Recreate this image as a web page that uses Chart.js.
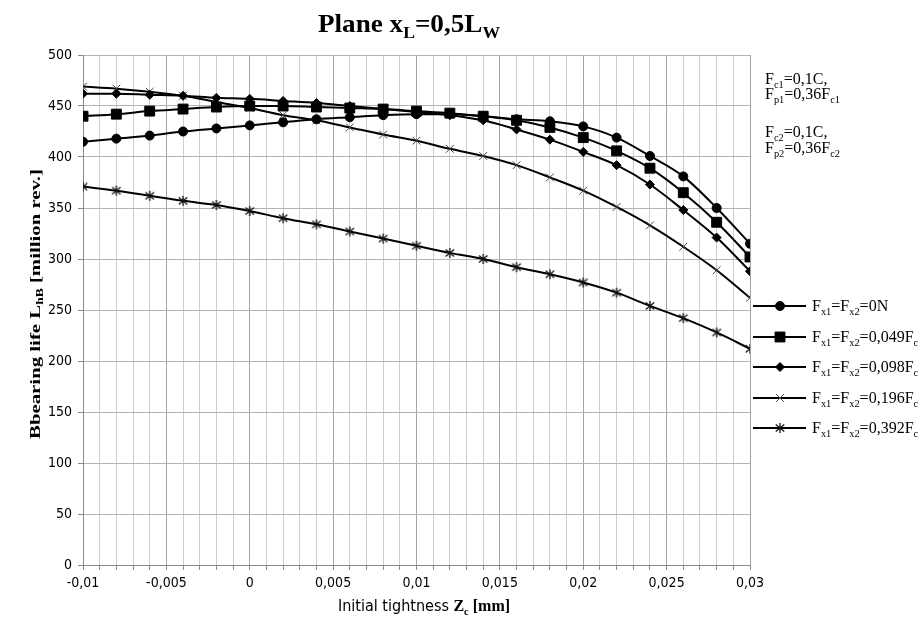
<!DOCTYPE html>
<html>
<head>
<meta charset="utf-8">
<script src="https://cdn.jsdelivr.net/npm/chart.js@4"></script>
<style>
  html, body { margin: 0; padding: 0; background: #fff; }
</style>
</head>
<body>
<canvas id="chart" width="924" height="624"></canvas>
<script>
// Initial tightness Zc [mm]
const tightness = [-0.01, -0.008, -0.006, -0.004, -0.002, 0, 0.002, 0.004, 0.006, 0.008,
    0.01, 0.012, 0.014, 0.016, 0.018, 0.02, 0.022, 0.024, 0.026, 0.028, 0.03];

// Bearing life LhB [million rev.] for each axial load
const life0N = [415, 418, 421, 425, 428, 431, 434, 437, 439, 441,
    442, 442, 440, 437, 435, 430, 419, 401, 381, 350, 315];
const life049 = [440, 442, 445, 447, 449, 450, 450, 449, 448, 447,
    445, 443, 440, 436, 429, 419, 406, 389, 365, 336, 302];
const life098 = [462, 462, 461, 460, 458, 457, 455, 453, 450, 447,
    444, 441, 436, 427, 417, 405, 392, 373, 348, 321, 288];
const life196 = [469, 467, 464, 460, 454, 448, 441, 436, 429, 422,
    416, 408, 401, 392, 380, 367, 351, 333, 312, 289, 262];
const life392 = [371, 367, 362, 357, 353, 347, 340, 334, 327, 320,
    313, 306, 300, 292, 285, 277, 267, 254, 242, 228, 212];

const seriesNames = ['F_{x1}=F_{x2}=0N', 'F_{x1}=F_{x2}=0,049F_{c}', 'F_{x1}=F_{x2}=0,098F_{c}',
    'F_{x1}=F_{x2}=0,196F_{c}', 'F_{x1}=F_{x2}=0,392F_{c}'];
const xTickLabels = ['-0,01', '-0,005', '0', '0,005', '0,01', '0,015', '0,02', '0,025', '0,03'];
const notes = ['F_{c1}=0,1C,', 'F_{p1}=0,36F_{c1}', '', 'F_{c2}=0,1C,', 'F_{p2}=0,36F_{c2}'];
const chartTitle = 'Plane x_{L}=0,5L_{W}';
const yTitle = 'Bbearing life L_{hB} [million rev.]';

const SERIF = "'Liberation Serif', 'Times New Roman', serif";
const NARROW = "'Liberation Sans Narrow', 'DejaVu Sans Condensed', 'Liberation Sans', sans-serif";

// excel-like star marker (x with a vertical stroke)
function starMarker(size) {
    const c = document.createElement('canvas');
    c.width = c.height = size;
    const g = c.getContext('2d');
    const m = size / 2, r = size / 2 - 1;
    g.strokeStyle = '#111';
    g.lineWidth = 1.3;
    g.beginPath();
    g.moveTo(m - r * 0.85, m - r * 0.7); g.lineTo(m + r * 0.85, m + r * 0.7);
    g.moveTo(m + r * 0.85, m - r * 0.7); g.lineTo(m - r * 0.85, m + r * 0.7);
    g.moveTo(m, m - r); g.lineTo(m, m + r);
    g.stroke();
    return c;
}
const star = starMarker(12);

const markers = [
    { pointStyle: 'circle', radius: 4.5, borderWidth: 1, color: '#000' },
    { pointStyle: 'rect', radius: 7, borderWidth: 1, color: '#000' },
    { pointStyle: 'rectRot', radius: 4.5, borderWidth: 1, color: '#000' },
    { pointStyle: 'crossRot', radius: 5.5, borderWidth: 1, color: '#444' },
    { pointStyle: star, radius: 6, borderWidth: 1, color: '#222' }
];

const allLife = [life0N, life049, life098, life196, life392];

// split "a_{b}c" into normal / subscript parts
function parseRich(str) {
    const parts = [];
    const re = /_\{([^}]*)\}/g;
    let last = 0, m;
    while ((m = re.exec(str))) {
        if (m.index > last) parts.push([str.slice(last, m.index), false]);
        parts.push([m[1], true]);
        last = re.lastIndex;
    }
    if (last < str.length) parts.push([str.slice(last), false]);
    return parts;
}

function richWidth(ctx, str, size, weight, family) {
    let w = 0;
    parseRich(str).forEach(([t, sub]) => {
        ctx.font = weight + ' ' + (sub ? size * 0.65 : size) + 'px ' + family;
        w += ctx.measureText(t).width;
    });
    return w;
}

function drawRich(ctx, str, x, y, size, weight, family, align) {
    const w = richWidth(ctx, str, size, weight, family);
    let cx = align === 'center' ? x - w / 2 : x;
    ctx.textAlign = 'left';
    ctx.textBaseline = 'alphabetic';
    parseRich(str).forEach(([t, sub]) => {
        ctx.font = weight + ' ' + (sub ? size * 0.65 : size) + 'px ' + family;
        ctx.fillText(t, cx, sub ? y + size * 0.22 : y);
        cx += ctx.measureText(t).width;
    });
    return w;
}

// draw rich text centred at (x, y) squeezed/stretched to a given length
function drawFitted(ctx, str, x, y, size, weight, family, length, angle) {
    const w = richWidth(ctx, str, size, weight, family);
    ctx.save();
    ctx.translate(x, y);
    ctx.rotate(angle);
    ctx.scale(length / w, 1);
    drawRich(ctx, str, 0, 0, size, weight, family, 'center');
    ctx.restore();
}

const textPlugin = {
    id: 'texts',
    afterDraw(chart) {
        const ctx = chart.ctx;
        ctx.save();
        ctx.fillStyle = '#000';

        // title
        drawFitted(ctx, chartTitle, 409, 32, 26, 'bold', SERIF, 182, 0);

        // y axis title
        drawFitted(ctx, yTitle, 40, 304, 15, 'bold', SERIF, 270, -Math.PI / 2);

        // x axis title: "Initial tightness" + bold "Zc [mm]"
        const xt1 = 'Initial tightness ';
        const xt2 = 'Z_{c} [mm]';
        const w2 = richWidth(ctx, xt2, 16, 'bold', SERIF);
        ctx.font = '16px ' + NARROW;
        const w1 = ctx.measureText(xt1).width;
        const x0 = 424 - (w1 + w2) / 2;
        ctx.textAlign = 'left';
        ctx.textBaseline = 'alphabetic';
        ctx.fillText(xt1, x0, 611);
        drawRich(ctx, xt2, x0 + w1, 611, 16, 'bold', SERIF, 'left');

        // notes at top right
        const noteY = [84, 99, 0, 137, 153];
        notes.forEach((n, i) => {
            if (n) drawRich(ctx, n, 765, noteY[i], 16, 'normal', SERIF, 'left');
        });

        // legend
        const rowY = [306, 337, 367, 398, 428];
        seriesNames.forEach((name, i) => {
            const y = rowY[i];
            const mk = markers[i];
            ctx.strokeStyle = '#000';
            ctx.lineWidth = 2;
            ctx.beginPath();
            ctx.moveTo(753, y);
            ctx.lineTo(806, y);
            ctx.stroke();
            ctx.fillStyle = mk.color;
            ctx.strokeStyle = mk.color;
            ctx.lineWidth = mk.borderWidth;
            Chart.helpers.drawPoint(ctx, {
                pointStyle: mk.pointStyle, radius: mk.radius,
                borderWidth: mk.borderWidth, rotation: 0
            }, 780, y);
            ctx.fillStyle = '#000';
            drawRich(ctx, name, 812, y + 5, 16, 'normal', SERIF, 'left');
        });
        ctx.restore();
    }
};

const datasets = allLife.map((life, i) => ({
    label: seriesNames[i].replace(/_\{([^}]*)\}/g, '$1'),
    data: tightness.map((x, j) => ({ x: x, y: life[j] })),
    borderColor: '#000',
    borderWidth: 2,
    backgroundColor: markers[i].color,
    pointBackgroundColor: markers[i].color,
    pointBorderColor: markers[i].color,
    pointBorderWidth: markers[i].borderWidth,
    pointStyle: markers[i].pointStyle,
    pointRadius: markers[i].radius,
    tension: 0.25,
    cubicInterpolationMode: 'monotone',
    fill: false
}));

const config = {
    type: 'line',
    data: { datasets: datasets },
    options: {
        responsive: false,
        animation: false,
        layout: { padding: { top: 55, right: 174, left: 0, bottom: 0 } },
        plugins: {
            legend: { display: false },
            title: { display: false },
            tooltip: { enabled: false }
        },
        scales: {
            x: {
                type: 'linear',
                min: -0.01,
                max: 0.03,
                afterFit: s => { s.height = 59; },
                afterBuildTicks: s => {
                    s.ticks = [];
                    for (let k = 0; k <= 40; k++) s.ticks.push({ value: -0.01 + k * 0.001 });
                },
                ticks: {
                    autoSkip: false,
                    maxRotation: 0,
                    padding: 5,
                    color: '#000',
                    font: { family: NARROW, size: 14 },
                    callback: (v, i) => i % 5 === 0 ? xTickLabels[i / 5] : ''
                },
                grid: {
                    color: c => c.index % 5 === 0 ? '#a4a4a4' : '#cdcdcd',
                    tickColor: '#8a8a8a',
                    tickLength: 5,
                    lineWidth: 1
                },
                border: { color: '#8a8a8a', width: 1 }
            },
            y: {
                min: 0,
                max: 500,
                afterFit: s => { s.width = 83; },
                ticks: {
                    stepSize: 50,
                    padding: 6,
                    color: '#000',
                    font: { family: NARROW, size: 14 }
                },
                grid: {
                    color: '#b4b4b4',
                    tickColor: '#8a8a8a',
                    tickLength: 5,
                    lineWidth: 1
                },
                border: { color: '#8a8a8a', width: 1 }
            }
        }
    },
    plugins: [textPlugin]
};

const chart = new Chart(document.getElementById('chart'), config);
</script>
</body>
</html>
